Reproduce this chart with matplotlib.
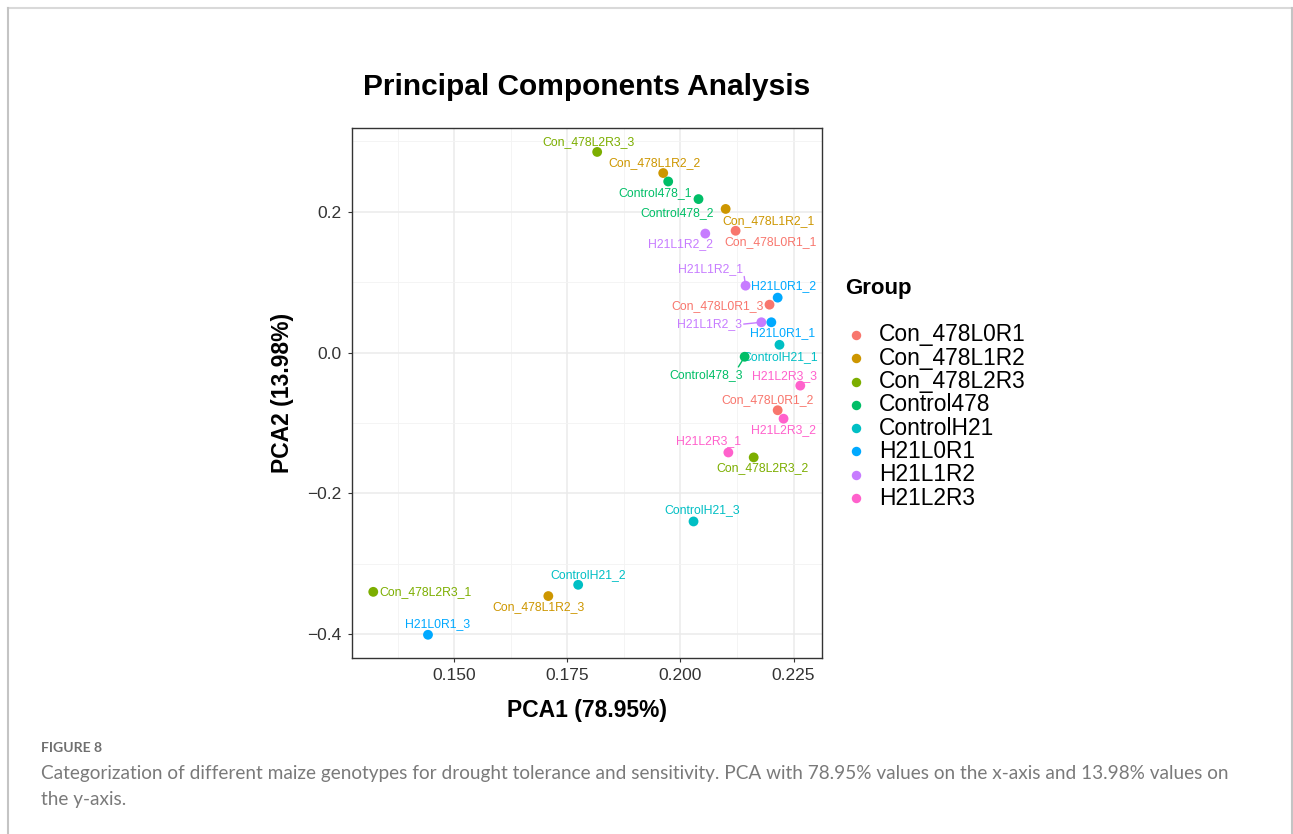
import matplotlib
matplotlib.use("Agg")
import matplotlib.pyplot as plt
from matplotlib.lines import Line2D

# ---- data -------------------------------------------------------------
samples = [
    "Con_478L2R3_3", "Con_478L1R2_2", "Control478_1", "Control478_2",
    "Con_478L1R2_1", "Con_478L0R1_1", "H21L1R2_2", "H21L1R2_1",
    "H21L0R1_2", "Con_478L0R1_3", "H21L1R2_3", "H21L0R1_1",
    "ControlH21_1", "Control478_3", "H21L2R3_3", "Con_478L0R1_2",
    "H21L2R3_2", "H21L2R3_1", "Con_478L2R3_2", "ControlH21_3",
    "ControlH21_2", "Con_478L1R2_3", "Con_478L2R3_1", "H21L0R1_3",
]
pca1 = [
    0.1816, 0.1962, 0.1973, 0.2040,
    0.2100, 0.2122, 0.2055, 0.2144,
    0.2215, 0.2197, 0.2179, 0.2201,
    0.2219, 0.2142, 0.2265, 0.2215,
    0.2228, 0.2106, 0.2162, 0.2029,
    0.1774, 0.1708, 0.1321, 0.1442,
]
pca2 = [
    0.285, 0.255, 0.243, 0.218,
    0.204, 0.173, 0.169, 0.095,
    0.078, 0.068, 0.043, 0.043,
    0.011, -0.006, -0.047, -0.082,
    -0.094, -0.142, -0.149, -0.240,
    -0.330, -0.346, -0.340, -0.401,
]
groups = ["Con_478L0R1", "Con_478L1R2", "Con_478L2R3", "Control478",
          "ControlH21", "H21L0R1", "H21L1R2", "H21L2R3"]
x_ticks = [0.150, 0.175, 0.200, 0.225]
y_ticks = [-0.4, -0.2, 0.0, 0.2]
var_pc1 = 78.95
var_pc2 = 13.98

# ---- styling ----------------------------------------------------------
palette = ["#F8766D", "#CD9600", "#7CAE00", "#00BE67",
           "#00BFC4", "#00A9FF", "#C77CFF", "#FF61CC"]
group_color = dict(zip(groups, palette))

# label placement (pixel offsets from each point, y pointing up)
label_offset = {
    "Con_478L2R3_3": (-9, 10), "Con_478L1R2_2": (-9, 10),
    "Control478_1": (-13, -12), "Control478_2": (-21, -14),
    "Con_478L1R2_1": (43, -12), "Con_478L0R1_1": (35, -11),
    "H21L1R2_2": (-25, -11), "H21L1R2_1": (-35, 17),
    "H21L0R1_2": (6, 12), "Con_478L0R1_3": (-52, -1),
    "H21L1R2_3": (-52, -2), "H21L0R1_1": (11, -11),
    "ControlH21_1": (1, -12), "Control478_3": (-39, -18),
    "H21L2R3_3": (-16, 10), "Con_478L0R1_2": (-10, 10),
    "H21L2R3_2": (0, -11), "H21L2R3_1": (-20, 11),
    "Con_478L2R3_2": (9, -11), "ControlH21_3": (9, 11),
    "ControlH21_2": (10, 10), "Con_478L1R2_3": (-10, -11),
    "Con_478L2R3_1": (52, 0), "H21L0R1_3": (10, 11),
}
# labels joined to their point by a short segment: anchor on the text box
label_segment = {
    "H21L1R2_1": (1.0, 0.5),
    "H21L1R2_3": (1.0, 0.5),
    "Control478_3": (0.93, 1.0),
}

FONT = ["Liberation Sans", "DejaVu Sans"]
plt.rcParams["font.family"] = FONT

W, H, DPI = 1293, 834, 100
fig = plt.figure(figsize=(W / DPI, H / DPI), dpi=DPI)
fig.patch.set_facecolor("white")


def fx(px):
    return px / W


def fy(py):
    return 1 - py / H


# page frame
for xs, ys, c in [((7.5, 1291.5), (7.5, 7.5), "#d9d9d9"),
                  ((7.5, 7.5), (7.5, 834), "#c4c4c4"),
                  ((1291.5, 1291.5), (7.5, 834), "#c4c4c4")]:
    fig.add_artist(Line2D([fx(v) for v in xs], [fy(v) for v in ys],
                          color=c, lw=1.5, transform=fig.transFigure))

# panel
left, right, top, bottom = 352, 822, 128, 658
ax = fig.add_axes([fx(left), fy(bottom), (right - left) / W, (bottom - top) / H])
ax.set_xlim(0.1274, 0.2313)
ax.set_ylim(-0.434, 0.319)
ax.set_xticks(x_ticks)
ax.set_xticklabels([f"{v:.3f}" for v in x_ticks])
ax.set_yticks(y_ticks)
ax.set_yticklabels([f"{v:.1f}".replace("-", "\u2212") for v in y_ticks])
ax.set_xticks([0.1375, 0.1625, 0.1875, 0.2125], minor=True)
ax.set_yticks([-0.3, -0.1, 0.1, 0.3], minor=True)
ax.grid(which="major", color="#EBEBEB", lw=1.1, zorder=0)
ax.grid(which="minor", color="#F3F3F3", lw=0.6, zorder=0)
ax.set_axisbelow(True)
ax.tick_params(which="major", length=2.8, width=0.8, color="#333333",
               labelsize=12.5, labelcolor="#333333", pad=4.5)
ax.tick_params(which="minor", length=0)
for s in ax.spines.values():
    s.set_color("#333333")
    s.set_linewidth(1.0)

# points
colors = [group_color[name.rsplit("_", 1)[0]] for name in samples]
ax.scatter(pca1, pca2, s=50, c=colors, edgecolors="none", zorder=4)

# sample labels
for name, x, y, c in zip(samples, pca1, pca2, colors):
    dx, dy = label_offset[name]
    kw = {}
    if name in label_segment:
        kw["arrowprops"] = dict(arrowstyle="-", color=c, lw=1.0,
                                shrinkA=0, shrinkB=0,
                                relpos=label_segment[name])
        kw["bbox"] = dict(boxstyle="square,pad=0.15", fc="none", ec="none")
    ax.annotate(name, (x, y), xytext=(dx, dy), textcoords="offset pixels",
                ha="center", va="center", fontsize=8.8, color=c,
                zorder=3, **kw)

# titles
fig.text(fx(587), fy(87), "Principal Components Analysis", ha="center",
         va="center", fontsize=21.5, fontweight="bold", color="black")
fig.text(fx(587), fy(711), f"PCA1 ({var_pc1:.2f}%)", ha="center",
         va="center", fontsize=16.5, fontweight="bold", color="black")
fig.text(fx(283), fy(393), f"PCA2 ({var_pc2:.2f}%)", ha="center",
         va="center", rotation=90, fontsize=16.5, fontweight="bold",
         color="black")

# legend
fig.text(fx(845), fy(288), "Group", ha="left", va="center", fontsize=16,
         fontweight="bold", color="black")
for i, (g, c) in enumerate(zip(groups, palette)):
    yy = 335 + 23.3 * i
    fig.add_artist(Line2D([fx(856)], [fy(yy)], marker="o", ms=6.8,
                          mfc=c, mec="none", ls="none",
                          transform=fig.transFigure))
    fig.text(fx(879), fy(yy), g, ha="left", va="center", fontsize=16.4,
             color="black")

# caption
CAP = ["Lato", "DejaVu Sans"]
fig.text(fx(41), fy(748), "FIGURE 8", ha="left", va="center", fontsize=10.1,
         fontweight="bold", color="#6f6f6f", family=CAP)
fig.text(fx(41), fy(773),
         "Categorization of different maize genotypes for drought tolerance "
         "and sensitivity. PCA with 78.95% values on the x-axis and 13.98% "
         "values on", ha="left", va="center", fontsize=13.68,
         color="#7a7a7a", family=CAP)
fig.text(fx(41), fy(799), "the y-axis.", ha="left", va="center",
         fontsize=13.68, color="#7a7a7a", family=CAP)

fig.savefig("out.png", dpi=DPI)
